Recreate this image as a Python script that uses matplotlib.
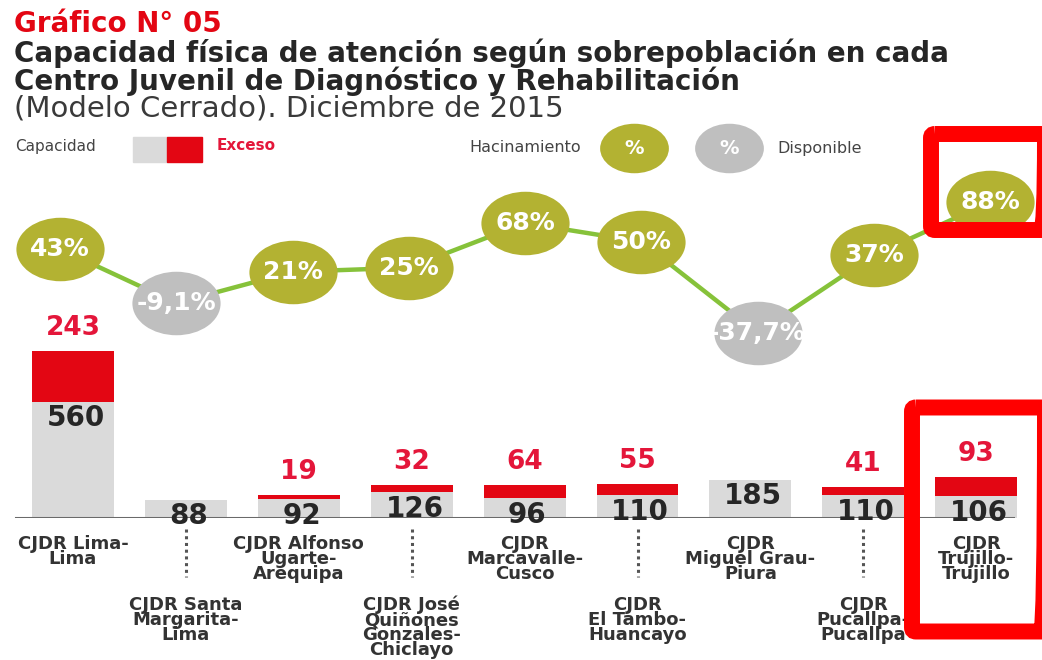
import numpy as np
import matplotlib
matplotlib.use("Agg")
import matplotlib.pyplot as plt
from matplotlib.path import Path
from matplotlib.transforms import Affine2D
from matplotlib.patches import FancyBboxPatch, Rectangle

# data
centros = ["CJDR Lima-\nLima", "CJDR Santa\nMargarita-\nLima", "CJDR Alfonso\nUgarte-\nArequipa",
           "CJDR José\nQuiñones\nGonzales-\nChiclayo", "CJDR\nMarcavalle-\nCusco",
           "CJDR\nEl Tambo-\nHuancayo", "CJDR\nMiguel Grau-\nPiura",
           "CJDR\nPucallpa-\nPucallpa", "CJDR\nTrujillo-\nTrujillo"]
capacidad = [560, 88, 92, 126, 96, 110, 185, 110, 106]
exceso = [243, 0, 19, 32, 64, 55, 0, 41, 93]
hacinamiento = [43, -9.1, 21, 25, 68, 50, -37.7, 37, 88]
etiquetas_pct = ["43%", "-9,1%", "21%", "25%", "68%", "50%", "-37,7%", "37%", "88%"]

W, H = 1042, 660
GRIS = "#dadada"
ROJO = "#e30613"
ROJO_TXT = "#e4163a"
OLIVA = "#b3b232"
GRIS_C = "#bfbfbf"
VERDE = "#86c23a"
OSCURO = "#262626"

fig = plt.figure(figsize=(W / 100, H / 100), dpi=100)
fig.patch.set_facecolor("white")

x = np.arange(len(capacidad))

# --- bars ---
base_px, top_px = 518, 188
ppu = 0.208  # pixels per unit
ax = fig.add_axes([0, 1 - base_px / H, 1, (base_px - top_px) / H])
ax.set_xlim(-73 / 112.9, (W - 73) / 112.9)
ax.set_ylim(0, (base_px - top_px) / ppu)
ax.axis("off")

ax.bar(x, capacidad, width=0.726, color=GRIS, zorder=2)
ax.bar(x, exceso, bottom=capacidad, width=0.726, color=ROJO, zorder=2)
ax.axhline(0, xmin=16 / W, xmax=1013 / W, color="#6a6a6a", lw=2.2, zorder=3)

for i in x:
    c, e = capacidad[i], exceso[i]
    ax.annotate(str(c), (i, c), xytext=(2, -2), textcoords="offset points",
                ha="center", va="top", fontsize=20, fontweight="bold",
                color=OSCURO, zorder=4, annotation_clip=False)
    if e > 0:
        ax.annotate(str(e), (i, c + e), xytext=(0, 7), textcoords="offset points",
                    ha="center", va="bottom", fontsize=19, fontweight="bold",
                    color=ROJO_TXT, zorder=4, annotation_clip=False)
    if i % 2 == 0:
        dy = -12
    else:
        dy = -56
        ax.plot([i, i], [-11 / ppu, -59 / ppu], color="#555555", lw=2.2,
                ls=(0, (1, 1.2)), clip_on=False)
    ax.annotate(centros[i], (i, 0), xytext=(0, dy), textcoords="offset points",
                ha="center", va="top", fontsize=13, fontweight="bold",
                color="#333333", linespacing=0.78, annotation_clip=False)

# --- line of hacinamiento ---
ax2 = fig.add_axes([0, 1 - 350 / H, 1, 230 / H])
ax2.set_xlim(-60 / 116.25, (W - 60) / 116.25)
ax2.set_ylim(-54.3, 167.2)
ax2.axis("off")
ax2.plot(x, hacinamiento, color=VERDE, lw=3.2, zorder=1)

elipse = Path.unit_circle().transformed(Affine2D().scale(1, 0.72))
for i in x:
    v = hacinamiento[i]
    col = OLIVA if v >= 0 else GRIS_C
    ax2.plot(i, v, marker=elipse, ms=63.5, color=col, mew=0, zorder=2, clip_on=False)
    ax2.text(i, v, etiquetas_pct[i], ha="center", va="center", fontsize=18,
             fontweight="bold", color="white", zorder=3, clip_on=False)

# --- titles, legend and highlight boxes ---
lay = fig.add_axes([0, 0, 1, 1])
lay.set_xlim(0, W)
lay.set_ylim(H, 0)
lay.axis("off")

lay.text(14, 32, "Gráfico N° 05", color=ROJO, fontsize=20, fontweight="bold", va="baseline")
lay.text(14, 62, "Capacidad física de atención según sobrepoblación en cada",
         color=OSCURO, fontsize=20, fontweight="bold", va="baseline")
lay.text(14, 90, "Centro Juvenil de Diagnóstico y Rehabilitación",
         color=OSCURO, fontsize=20, fontweight="bold", va="baseline")
lay.text(14, 117, "(Modelo Cerrado). Diciembre de 2015",
         color="#3a3a3a", fontsize=21, va="baseline")

lay.text(15, 146, "Capacidad", color="#444444", fontsize=11, va="center")
lay.add_patch(Rectangle((133, 137), 34, 25, color=GRIS))
lay.add_patch(Rectangle((167, 137), 35, 25, color=ROJO))
lay.text(217, 146, "Exceso", color=ROJO_TXT, fontsize=11, fontweight="bold", va="center")
lay.text(469, 148, "Hacinamiento", color="#444444", fontsize=11.5, va="center")
lay.plot(634, 148, marker=elipse, ms=49.5, color=OLIVA, mew=0)
lay.text(634, 148, "%", color="white", fontsize=14, fontweight="bold", ha="center", va="center")
lay.plot(729, 148, marker=elipse, ms=49.5, color=GRIS_C, mew=0)
lay.text(729, 148, "%", color="white", fontsize=14, fontweight="bold", ha="center", va="center")
lay.text(777, 148, "Disponible", color="#444444", fontsize=11.5, va="center")

for (x0, y0, x1, y1) in [(931, 134, 1045, 230), (912, 407.5, 1045, 631.5)]:
    lay.add_patch(FancyBboxPatch((x0, y0), x1 - x0, y1 - y0,
                                 boxstyle="round,pad=0,rounding_size=4",
                                 fc="none", ec="#ff0000", lw=11.5, zorder=10))

fig.savefig("out.png", dpi=100, facecolor="white")
